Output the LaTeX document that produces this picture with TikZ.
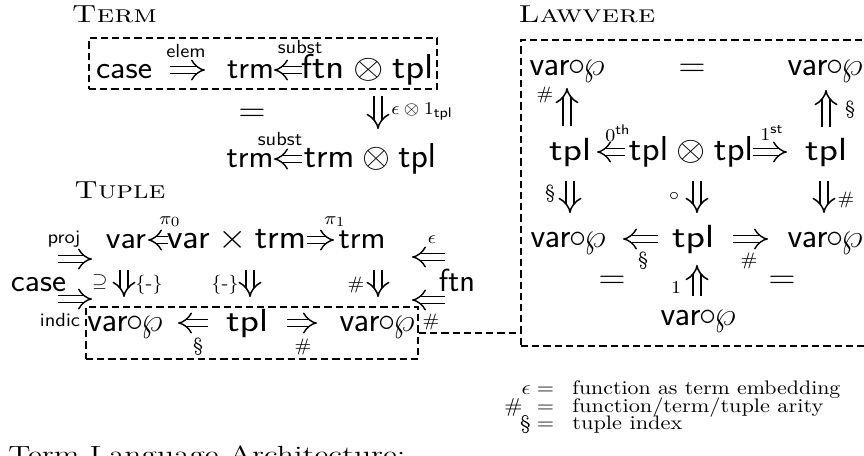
\documentclass[tikz,border=0pt]{standalone}
\usepackage{graphicx}
\usetikzlibrary{arrows.meta,calc,fit}
\newcommand{\FW}[2]{\resizebox{#1}{\height}{#2}}
\newcommand{\FWH}[3]{\resizebox{#1}{#2}{#3}}
\newcommand{\Hd}[1]{\scalebox{1.08}[1]{#1}}
\newcommand{\Hg}[1]{\scalebox{1.11}[1]{#1}}
\newcommand{\dfnt}{\fontsize{16}{19}\selectfont}
\newcommand{\lfnt}{\fontsize{9.5}{11}\selectfont}
\newcommand{\tfnt}{\fontsize{12}{14}\selectfont}
\newcommand{\gfnt}{\fontsize{9.8}{11}\selectfont}
\newcommand{\vw}{\FW{37.5pt}{$\mathsf{var}\mkern-1mu{\circ}\mkern-1mu\wp$}}
\newcommand{\tp}{\FW{21pt}{tpl}}
\tikzset{
  dtxt/.style={inner sep=0pt, anchor=base, font=\dfnt\sffamily},
  lab/.style={inner sep=0pt, anchor=base, font=\lfnt\sffamily},
  labc/.style={inner sep=0pt, anchor=center, font=\lfnt},
  ttl/.style={inner sep=0pt, anchor=base west, font=\tfnt\scshape},
  dar/.style={double, double distance=3pt, line width=0.7pt, -{Implies}},
  vdar/.style={double, double distance=3.3pt, line width=0.75pt, -{Implies}},
  dbox/.style={draw, line width=0.9pt, dash pattern=on 3.6pt off 2pt},
  leg/.style={inner sep=0pt, anchor=base, font=\gfnt},
}
\begin{document}
\begin{tikzpicture}[x=0.5pt, y=-0.5pt]
\useasboundingbox (0,0) rectangle (864,456);
\clip (0,0) rectangle (864,456);

% ---------------- TERM ----------------
\node[ttl] (tTerm) at (71.5,22.7) {\FWH{42.5pt}{8.35pt}{Term}};
\node[dtxt] (case) at (124,78) {\FW{28pt}{case}};
\node[dtxt] (trmA1) at (250.5,78) {\FW{23.5pt}{trm}};
\node[dtxt] (ftp) at (367,78) {\FW{66pt}{$\mathsf{ftn}\otimes\mathsf{tpl}$}};
\node[dtxt] (eqT) at (252,121) {\Hd{$=$}};
\node[dtxt] (trmA2) at (250,167) {\FW{23.5pt}{trm}};
\node[dtxt] (ttp) at (370,167) {\FW{66pt}{$\mathsf{trm}\otimes\mathsf{tpl}$}};
\coordinate (b1a) at (89,38);
\coordinate (b1b) at (437,89);
\node[dbox, inner sep=0pt, fit=(b1a)(b1b)] (box1) {};

\node[lab] (lElem) at (186,57) {\Hd{elem}};
\node[lab] (lSub1) at (300,53) {\Hd{subst}};
\node[lab, anchor=base west] (lEps) at (391,114) {\Hd{$\epsilon\otimes 1_{\mathsf{tpl}}$}};
\node[lab] (lSub2) at (280,145) {\Hd{subst}};

\draw[dar] ($(case.base)+(46,-8)$) -- ($(trmA1.base)+(-45.5,-8)$);
\draw[dar] ($(ftp.base)+(-65,-8)$) -- ($(trmA1.base)+(23.5,-8)$);
\draw[vdar] ($(ftp.base)+(11,18)$) -- ($(ttp.base)+(8,-38)$);
\draw[dar] ($(ttp.base)+(-68,-8)$) -- ($(trmA2.base)+(24,-8)$);

% ---------------- TUPLE ----------------
\node[ttl] (tTuple) at (74,198) {\FWH{45.5pt}{8.35pt}{Tuple}};
\node[dtxt] (varA) at (126,248) {\FW{20pt}{var}};
\node[dtxt] (vxt) at (236.5,248) {\FW{69.5pt}{$\mathsf{var}\times\mathsf{trm}$}};
\node[dtxt] (trmA) at (362,248) {\FW{23.5pt}{trm}};
\node[dtxt] (caseB) at (38.5,291) {\FW{27.5pt}{case}};
\node[dtxt] (ftnB) at (457,291) {\FW{18pt}{ftn}};
\node[dtxt] (varC) at (125,331) {\vw};
\node[dtxt] (tplC) at (247,331) {\tp};
\node[dtxt] (varC2) at (377,331) {\vw};
\coordinate (b2a) at (86,307);
\coordinate (b2b) at (418,359);
\node[dbox, inner sep=0pt, fit=(b2a)(b2b)] (box2) {};

\node[lab] (lPi0) at (170,224) {\Hd{$\pi_0$}};
\node[lab] (lPi1) at (335,224) {\Hd{$\pi_1$}};
\node[lab] (lProj) at (64,243) {\Hd{proj}};
\node[lab] (lIndic) at (60,326) {\Hd{indic}};
\node[labc] (lSup) at (100,282) {\Hd{$\supseteq$}};
\node[labc] (lBr1) at (149,285) {\Hd{\{-\}}};
\node[labc] (lBr2) at (225,285) {\Hd{\{-\}}};
\node[labc] (lHa) at (356,285) {\Hd{$\#$}};
\node[labc] (lEpsB) at (432,240) {\Hd{$\epsilon$}};
\node[labc] (lHb) at (431,322) {\Hd{$\#$}};
\node[labc] (lSa) at (198,347) {\Hd{\S}};
\node[labc] (lHc) at (303,347) {\Hd{$\#$}};

\draw[dar] ($(vxt.base)+(-68.5,-8)$) -- ($(varA.base)+(22,-8)$);
\draw[dar] ($(vxt.base)+(70.5,-8)$) -- ($(trmA.base)+(-28,-8)$);
\draw[dar] ($(caseB.base)+(19.5,-32)$) -- ($(varA.base)+(-34,11)$);
\draw[dar] ($(caseB.base)+(19.5,8)$) -- ($(varC.base)+(-33,-32)$);
\draw[vdar] ($(varA.base)+(-2,22)$) -- ($(varC.base)+(-1,-34)$);
\draw[vdar] ($(vxt.base)+(13.5,22)$) -- ($(tplC.base)+(3,-34)$);
\draw[vdar] ($(trmA.base)+(16,22)$) -- ($(varC2.base)+(1,-34)$);
\draw[dar] ($(ftnB.base)+(-12,-34)$) -- ($(trmA.base)+(50,9)$);
\draw[dar] ($(ftnB.base)+(-12,9)$) -- ($(varC2.base)+(35,-31)$);
\draw[dar] ($(tplC.base)+(-39,-8)$) -- ($(varC.base)+(53,-8)$);
\draw[dar] ($(tplC.base)+(40,-8)$) -- ($(varC2.base)+(-60,-8)$);

% ---------------- LAWVERE ----------------
\node[ttl] (tLaw) at (518,22) {\FWH{68.5pt}{8.35pt}{Lawvere}};
\node[dtxt] (L11) at (567,75) {\vw};
\node[dtxt] (eqL1) at (692,76) {\Hd{$=$}};
\node[dtxt] (L13) at (825,75) {\vw};
\node[dtxt] (L21) at (570,160) {\tp};
\node[dtxt] (L22) at (691,160) {\FW{62pt}{$\mathsf{tpl}\otimes\mathsf{tpl}$}};
\node[dtxt] (L23) at (826,160) {\tp};
\node[dtxt] (L31) at (568,247) {\vw};
\node[dtxt] (L32) at (693,247) {\tp};
\node[dtxt] (L33) at (825,247) {\vw};
\node[dtxt] (eqL2) at (612,288) {\Hd{$=$}};
\node[dtxt] (eqL3) at (782,288) {\Hd{$=$}};
\node[dtxt] (L41) at (698,325) {\vw};
\coordinate (b3a) at (521,40);
\coordinate (b3b) at (880,346);
\node[dbox, inner sep=0pt, fit=(b3a)(b3b)] (box3) {};

\node[labc] (lH1) at (545,95) {\Hd{$\#$}};
\node[labc] (lS1) at (850,110) {\Hd{\S}};
\node[labc] (l0th) at (618,133) {\Hd{$0^{\mathsf{th}}$}};
\node[labc] (l1st) at (772,133) {\Hd{$1^{\mathsf{st}}$}};
\node[labc] (lS2) at (550,194) {\Hd{\S}};
\node[labc] (lCirc) at (674,196) {\Hd{$\circ$}};
\node[labc] (lH2) at (846,200) {\Hd{$\#$}};
\node[labc] (lS3) at (643,261) {\Hd{\S}};
\node[labc] (lH3) at (749,261) {\Hd{$\#$}};
\node[labc] (lOne) at (676,288) {\Hd{$1$}};

\draw[vdar] ($(L21.base)+(-3,-34)$) -- ($(L11.base)+(0,13)$);
\draw[vdar] ($(L23.base)+(0,-33)$) -- ($(L13.base)+(1,15)$);
\draw[dar] ($(L22.base)+(-66,-8)$) -- ($(L21.base)+(27,-8)$);
\draw[dar] ($(L22.base)+(62,-8)$) -- ($(L23.base)+(-39,-8)$);
\draw[vdar] ($(L21.base)+(0,21)$) -- ($(L31.base)+(2,-34)$);
\draw[vdar] ($(L22.base)+(6,21)$) -- ($(L32.base)+(4,-34)$);
\draw[vdar] ($(L23.base)+(-2,21)$) -- ($(L33.base)+(-1,-34)$);
\draw[dar] ($(L32.base)+(-35,-8)$) -- ($(L31.base)+(55,-8)$);
\draw[dar] ($(L32.base)+(40,-8)$) -- ($(L33.base)+(-57,-8)$);
\draw[vdar] ($(L41.base)+(-1,-29)$) -- ($(L32.base)+(4,18)$);

% connector between tuple box and Lawvere box
\draw[dbox] (box2.east) -- (box2.east -| box3.west);

% ---------------- legend ----------------
\node[leg, anchor=base east] (ls1) at (531,394) {\Hg{$\epsilon$}};
\node[leg] (le1) at (545.5,394) {\Hg{$=$}};
\node[leg, anchor=base west] (lt1) at (572,394) {\FW{134pt}{function as term embedding}};
\node[leg, anchor=base east] (ls2) at (523,412) {\Hg{$\#$}};
\node[leg] (le2) at (545.5,412) {\Hg{$=$}};
\node[leg, anchor=base west] (lt2) at (572,412) {\FW{125.5pt}{function/term/tuple arity}};
\node[leg, anchor=base east] (ls3) at (531,429) {\Hg{\S}};
\node[leg] (le3) at (545.5,429) {\Hg{$=$}};
\node[leg, anchor=base west] (lt3) at (572,429) {\FW{55pt}{tuple index}};

\node[inner sep=0pt, anchor=base west, font=\tfnt] (capt) at (8,462) {\FWH{198.5pt}{8.35pt}{Term Language Architecture:}};
\end{tikzpicture}
\end{document}
